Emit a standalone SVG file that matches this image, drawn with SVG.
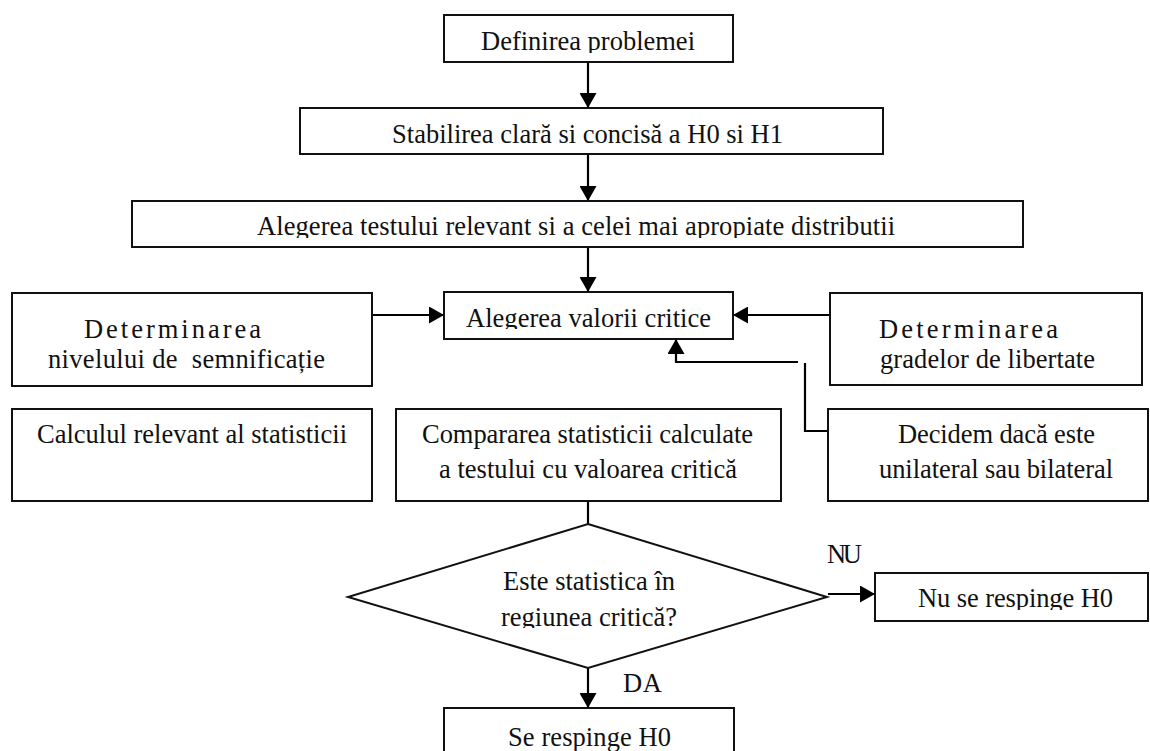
<svg xmlns="http://www.w3.org/2000/svg" width="1150" height="751" viewBox="0 0 1150 751">
  <style>
    .box { fill: #fff; stroke: #111; stroke-width: 2; }
    .lbl { font-family: "Liberation Serif", "Times New Roman", serif; font-size: 26.5px; fill: #111; }
    .wire { fill: none; stroke: #000; stroke-width: 2.2; }
    .arr { marker-end: url(#head); }
  </style>
  <defs>
    <marker id="head" markerUnits="userSpaceOnUse" markerWidth="16" markerHeight="17" refX="15" refY="8.5" orient="auto">
      <path d="M0,0 L15,8.5 L0,17 z" fill="#000"/>
    </marker>
    <!-- text frames that cut off descenders -->
    <clipPath id="c1"><rect x="444" y="15" width="289" height="38"/></clipPath>
    <clipPath id="c3"><rect x="132" y="201" width="891" height="37"/></clipPath>
    <clipPath id="c4"><rect x="444" y="292" width="289" height="37"/></clipPath>
    <clipPath id="cd"><rect x="400" y="600" width="380" height="28"/></clipPath>
    <clipPath id="cn"><rect x="875" y="573" width="273" height="37"/></clipPath>
  </defs>

  <!-- connectors -->
  <g id="connectors">
    <path class="wire arr" d="M588,62 V108"/>
    <path class="wire arr" d="M588,154 V201"/>
    <path class="wire arr" d="M588,247 V292"/>
    <path class="wire arr" d="M372,315 H444"/>
    <path class="wire arr" d="M830,315 H733"/>
    <path class="wire arr" d="M798,362 H676 V339"/>
    <path class="wire" d="M828,431 H805 V363"/>
    <path class="wire" d="M588,501 V524"/>
    <path class="wire arr" d="M588,656 V708"/>
    <path class="wire arr" d="M828,594 H875"/>
  </g>

  <g id="n-definirea">
    <rect class="box" x="444" y="15" width="289" height="47"/>
    <text class="lbl" x="481" y="50" textLength="214" lengthAdjust="spacing" clip-path="url(#c1)">Definirea problemei</text>
  </g>

  <g id="n-stabilirea">
    <rect class="box" x="300" y="108" width="583" height="46"/>
    <text class="lbl" x="392" y="143" textLength="391" lengthAdjust="spacing">Stabilirea clară si concisă a H0 si H1</text>
  </g>

  <g id="n-alegerea-testului">
    <rect class="box" x="132" y="201" width="891" height="46"/>
    <text class="lbl" x="257" y="235" textLength="638" lengthAdjust="spacing" clip-path="url(#c3)">Alegerea testului relevant si a celei mai apropiate distributii</text>
  </g>

  <g id="n-valori-critice">
    <rect class="box" x="444" y="292" width="289" height="47"/>
    <text class="lbl" x="466" y="327" textLength="245" lengthAdjust="spacing" clip-path="url(#c4)">Alegerea valorii critice</text>
  </g>

  <g id="n-semnificatie">
    <rect class="box" x="12" y="293" width="360" height="93"/>
    <text class="lbl" x="84" y="338" textLength="177" lengthAdjust="spacing">Determinarea</text>
    <text class="lbl" x="48" y="368" textLength="277" lengthAdjust="spacing" xml:space="preserve">nivelului de  semnificație</text>
  </g>

  <g id="n-grade-libertate">
    <rect class="box" x="830" y="293" width="312" height="92"/>
    <text class="lbl" x="879" y="338" textLength="179" lengthAdjust="spacing">Determinarea</text>
    <text class="lbl" x="880" y="368" textLength="215" lengthAdjust="spacing">gradelor de libertate</text>
  </g>

  <g id="n-calculul">
    <rect class="box" x="12" y="409" width="360" height="92"/>
    <text class="lbl" x="37" y="443" textLength="310" lengthAdjust="spacing">Calculul relevant al statisticii</text>
  </g>

  <g id="n-compararea">
    <rect class="box" x="396" y="409" width="385" height="92"/>
    <text class="lbl" x="422" y="443" textLength="331" lengthAdjust="spacing">Compararea statisticii calculate</text>
    <text class="lbl" x="439" y="478" textLength="298" lengthAdjust="spacing">a testului cu valoarea critică</text>
  </g>

  <g id="n-decidem">
    <rect class="box" x="828" y="409" width="320" height="92"/>
    <text class="lbl" x="898" y="443" textLength="197" lengthAdjust="spacing">Decidem dacă este</text>
    <text class="lbl" x="879" y="478" textLength="234" lengthAdjust="spacing">unilateral sau bilateral</text>
  </g>

  <g id="n-decizie">
    <polygon class="box" points="588,524 827,597 588,668 348,597"/>
    <text class="lbl" x="503" y="590" textLength="172" lengthAdjust="spacing">Este statistica în</text>
    <text class="lbl" x="501" y="626" textLength="176" lengthAdjust="spacing" clip-path="url(#cd)">regiunea critică?</text>
  </g>

  <g id="n-nu-respinge">
    <rect class="box" x="875" y="573" width="273" height="48"/>
    <text class="lbl" x="918" y="607" textLength="195" lengthAdjust="spacing" clip-path="url(#cn)">Nu se respinge H0</text>
  </g>

  <g id="n-respinge">
    <rect class="box" x="444" y="708" width="290" height="60"/>
    <text class="lbl" x="508" y="746" textLength="163" lengthAdjust="spacing">Se respinge H0</text>
  </g>

  <g id="edge-labels">
    <text class="lbl" x="827" y="563" textLength="35" lengthAdjust="spacing">NU</text>
    <text class="lbl" x="623" y="692" textLength="39" lengthAdjust="spacing">DA</text>
  </g>
</svg>
